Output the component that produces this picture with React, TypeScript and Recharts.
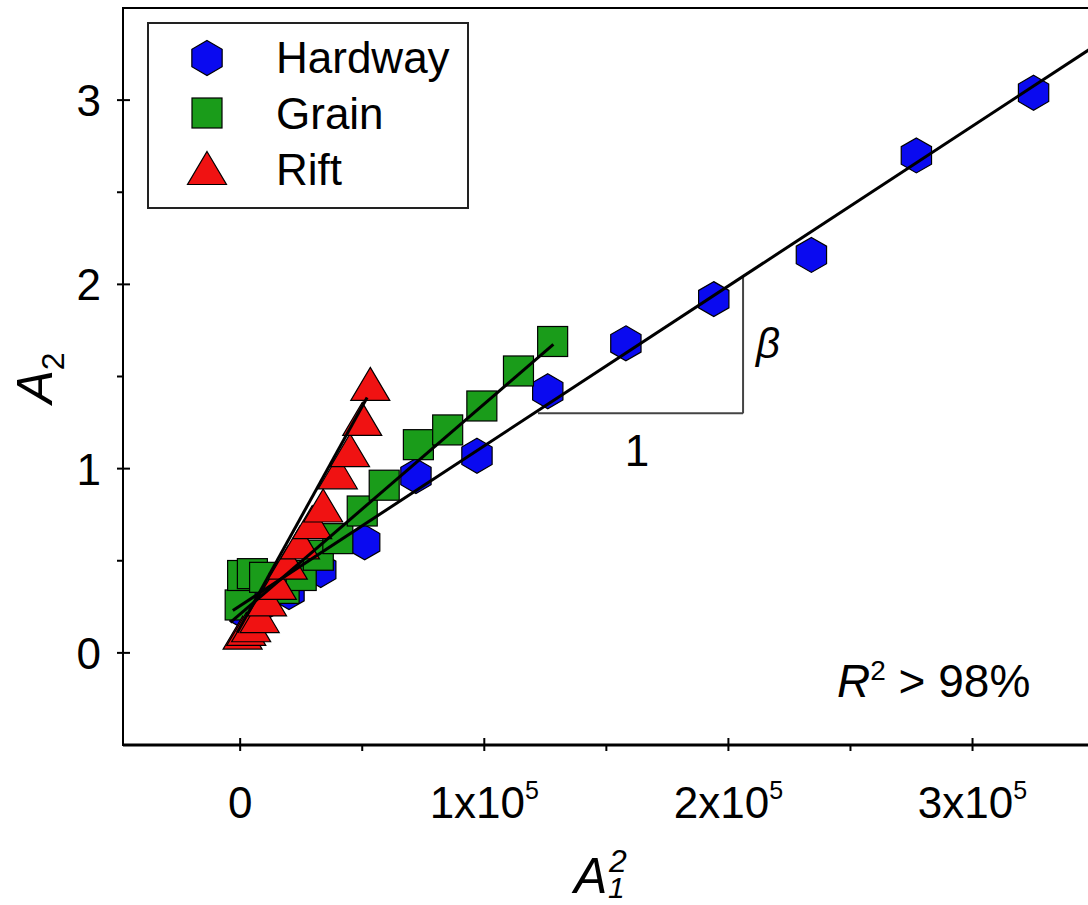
import { ScatterChart, Scatter, XAxis, YAxis, ReferenceLine, ReferenceArea, Legend } from "recharts"

// values (x = A1^2, y = A2)
const hardwayX = [2000, 10000, 20000, 33000, 51000, 72000, 97000, 126000, 158000, 194000, 234000, 277000, 325000]
const hardwayY = [0.22, 0.27, 0.33, 0.45, 0.6, 0.96, 1.07, 1.42, 1.68, 1.92, 2.16, 2.7, 3.04]

const grainX = [0, 1000, 5000, 10000, 18000, 25000, 32000, 40000, 50000, 59000, 73000, 85000, 99000, 114000, 128000]
const grainY = [0.26, 0.42, 0.43, 0.41, 0.35, 0.42, 0.53, 0.62, 0.77, 0.91, 1.13, 1.21, 1.34, 1.53, 1.69]

const riftX = [1000, 2500, 4500, 8000, 11000, 15000, 19500, 24500, 29500, 34000, 40000, 45000, 50000, 53300]
const riftY = [0.11, 0.13, 0.15, 0.2, 0.29, 0.38, 0.49, 0.6, 0.71, 0.8, 0.98, 1.1, 1.27, 1.46]

// fitted lines (end points)
const hardwayFitX = [-3000, 360000]
const hardwayFitY = [0.23, 3.38]
const grainFitX = [-4000, 128300]
const grainFitY = [0.165, 1.674]
const riftFitX = [-1200, 52000]
const riftFitY = [0.11, 1.386]

const xTicks = [0, 50000, 100000, 150000, 200000, 250000, 300000, 350000]
const yTicks = [0, 0.5, 1, 1.5, 2, 2.5, 3]

const zip = (xs: number[], ys: number[]) => xs.map((x, i) => ({ x, y: ys[i] }))

const FONT = "'Liberation Sans', Arial, sans-serif"

const hexagon = (cx: number, cy: number, r = 17.5) => {
  const pts = []
  for (let i = 0; i < 6; i++) {
    const a = (Math.PI / 3) * i - Math.PI / 2
    pts.push(`${cx + r * Math.cos(a)},${cy + r * Math.sin(a)}`)
  }
  return <polygon points={pts.join(" ")} fill="#0a0af0" stroke="#000" strokeWidth={1.2} />
}
const square = (cx: number, cy: number, s = 30) => (
  <rect x={cx - s / 2} y={cy - s / 2} width={s} height={s} fill="#1a9c1a" stroke="#000" strokeWidth={1.2} />
)
const triangle = (cx: number, cy: number, w = 39, h = 33) => (
  <polygon
    points={`${cx},${cy - h / 2} ${cx + w / 2},${cy + h / 2} ${cx - w / 2},${cy + h / 2}`}
    fill="#f01212"
    stroke="#000"
    strokeWidth={1.2}
  />
)

const series = [
  { name: "Hardway", data: zip(hardwayX, hardwayY), draw: hexagon },
  { name: "Grain", data: zip(grainX, grainY), draw: square },
  { name: "Rift", data: zip(riftX, riftY), draw: triangle },
]

const fits = [zip(hardwayFitX, hardwayFitY), zip(grainFitX, grainFitY), zip(riftFitX, riftFitY)]

const XTick = (props: any) => {
  const { x, y, payload } = props
  const v = payload.value
  const major = v % 100000 === 0
  return (
    <g>
      <line x1={x} x2={x} y1={y} y2={y - (major ? 13 : 7)} stroke="#000" strokeWidth={2} />
      {major && (
        <text x={x} y={y + 67} textAnchor="middle" fontSize={44} fontFamily={FONT} fill="#000">
          {v === 0 ? "0" : `${v / 100000}x10`}
          {v !== 0 && (
            <tspan dy={-19} fontSize={25}>
              5
            </tspan>
          )}
        </text>
      )}
    </g>
  )
}

const YTick = (props: any) => {
  const { x, y, payload } = props
  const v = payload.value
  const major = Number.isInteger(v)
  return (
    <g>
      <line x1={x} x2={x + (major ? 13 : 7)} y1={y} y2={y} stroke="#000" strokeWidth={2} />
      {major && (
        <text x={x - 16} y={y + 16} textAnchor="end" fontSize={44} fontFamily={FONT} fill="#000">
          {v}
        </text>
      )}
    </g>
  )
}

const renderLegend = () => (
  <svg width={322} height={187}>
    <rect x={1} y={1} width={320} height={185} fill="#fff" stroke="#222" strokeWidth={2} />
    {series.map((s, i) => (
      <g key={s.name}>
        {s.draw(60, 36 + i * 55)}
        <text x={129} y={51 + i * 56} fontSize={44} fontFamily={FONT} fill="#000">
          {s.name}
        </text>
      </g>
    ))}
  </svg>
)

export default function App() {
  return (
    <div
      style={{
        position: "absolute",
        left: 0,
        top: 0,
        width: 1088,
        height: 905,
        overflow: "hidden",
        background: "#fff",
        fontFamily: FONT,
      }}
    >
      <ScatterChart width={1119} height={905} margin={{ top: 8, right: 0, bottom: 100, left: 63 }}>
        <XAxis
          type="number"
          dataKey="x"
          domain={[-48000, 360000]}
          ticks={xTicks}
          interval={0}
          height={60}
          tickLine={false}
          tickMargin={0}
          tick={<XTick />}
          axisLine={{ stroke: "#000", strokeWidth: 3 }}
          allowDataOverflow
        />
        <YAxis
          type="number"
          dataKey="y"
          domain={[-0.5, 3.5]}
          ticks={yTicks}
          interval={0}
          width={60}
          tickLine={false}
          tickMargin={0}
          tick={<YTick />}
          axisLine={{ stroke: "#000", strokeWidth: 2 }}
          allowDataOverflow
        />
        <ReferenceArea x1={-48000} x2={360000} y1={-0.5} y2={3.5} fill="none" stroke="#000" strokeWidth={2} fillOpacity={0} />
        {series.map((s) => (
          <Scatter
            key={s.name}
            name={s.name}
            data={s.data}
            isAnimationActive={false}
            shape={(p: any) => s.draw(p.cx, p.cy)}
          />
        ))}
        {fits.map((f, i) => (
          <Scatter
            key={"fit" + i}
            data={f}
            line={{ stroke: "#000", strokeWidth: 3 }}
            shape={() => <g />}
            legendType="none"
            isAnimationActive={false}
          />
        ))}
        <ReferenceLine
          segment={[
            { x: 122000, y: 1.3 },
            { x: 206000, y: 1.3 },
          ]}
          stroke="#444"
          strokeWidth={2}
        />
        <ReferenceLine
          segment={[
            { x: 206000, y: 1.3 },
            { x: 206000, y: 2.045 },
          ]}
          stroke="#444"
          strokeWidth={2}
        />
        <Legend
          layout="vertical"
          align="center"
          verticalAlign="middle"
          content={renderLegend}
          wrapperStyle={{ left: 147, top: 22, width: 322, height: 187 }}
        />
      </ScatterChart>
      <svg
        width={1088}
        height={905}
        style={{ position: "absolute", left: 0, top: 0, pointerEvents: "none" }}
        fontFamily={FONT}
      >
        <text x={637} y={466} textAnchor="middle" fontSize={44}>
          1
        </text>
        <text x={756} y={358} fontSize={42} fontStyle="italic">
          β
        </text>
        <text x={837} y={697} fontSize={46}>
          <tspan fontStyle="italic">R</tspan>
          <tspan dy={-17} fontSize={28}>
            2
          </tspan>
          <tspan dy={17}> &gt; 98%</tspan>
        </text>
        <text x={574} y={893} fontSize={50} fontStyle="italic">
          A
        </text>
        <text x={609} y={872} fontSize={32} fontStyle="italic">
          2
        </text>
        <text x={608} y={898} fontSize={30} fontStyle="italic">
          1
        </text>
        <g transform="translate(52,378) rotate(-90)">
          <text x={0} y={0} textAnchor="middle" fontSize={50}>
            <tspan fontStyle="italic">A</tspan>
            <tspan dy={12} fontSize={32}>
              2
            </tspan>
          </text>
        </g>
      </svg>
    </div>
  )
}
